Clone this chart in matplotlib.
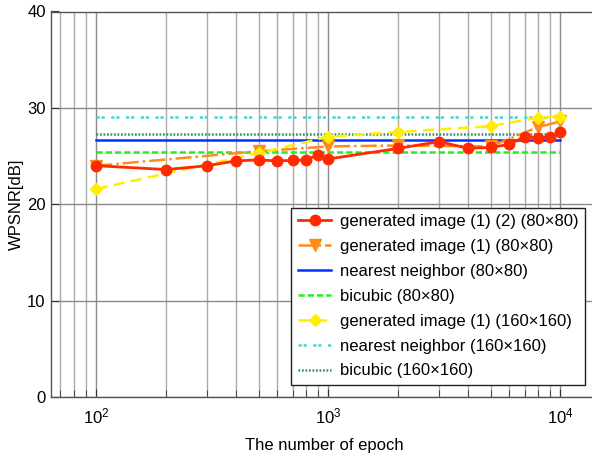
import matplotlib
matplotlib.use("Agg")
import matplotlib.pyplot as plt
from matplotlib.ticker import LogLocator, NullFormatter, FixedLocator

plt.rcParams['font.family'] = ['Liberation Sans', 'DejaVu Sans']
plt.rcParams['mathtext.fontset'] = 'custom'
plt.rcParams['mathtext.rm'] = 'Liberation Sans'
plt.rcParams['mathtext.it'] = 'Liberation Sans'

# ---- data ----
epochs_red = [100, 200, 300, 400, 500, 600, 700, 800, 900, 1000,
              2000, 3000, 4000, 5000, 6000, 7000, 8000, 9000, 10000]
wpsnr_red = [24.0, 23.6, 24.0, 24.5, 24.6, 24.5, 24.55, 24.6, 25.1, 24.7,
             25.8, 26.5, 25.8, 25.9, 26.2, 27.0, 26.9, 27.0, 27.5]

epochs_orange = [100, 500, 1000, 2000, 5000, 8000, 10000]
wpsnr_orange = [24.0, 25.5, 26.0, 26.1, 26.0, 28.0, 28.6]

epochs_yellow = [100, 500, 1000, 2000, 5000, 8000, 10000]
wpsnr_yellow = [21.6, 25.3, 27.0, 27.5, 28.1, 29.0, 29.1]

ref_span = [100, 10000]
nn_80 = 26.7
bicubic_80 = 25.4
nn_160 = 29.1
bicubic_160 = 27.3

labels = ["generated image (1) (2) (80\u00d780)",
          "generated image (1) (80\u00d780)",
          "nearest neighbor (80\u00d780)",
          "bicubic (80\u00d780)",
          "generated image (1) (160\u00d7160)",
          "nearest neighbor (160\u00d7160)",
          "bicubic (160\u00d7160)"]

fig = plt.figure(figsize=(5.92, 4.55), dpi=100)
ax = fig.add_axes([50.5/592, 1-397/455, 1-50.5/592 + 0.01, (397-11.5)/455])

ax.set_xscale('log')
ax.set_xlim(63.4, 14500)
ax.set_ylim(0, 40)

ax.plot(epochs_red, wpsnr_red, '-', color='#ff2a00', lw=2.0, marker='o',
        ms=7.5, label=labels[0], zorder=5)
ax.plot(epochs_orange, wpsnr_orange, '-.', color='#ff8c1a', lw=1.8, marker='v',
        ms=8, label=labels[1], zorder=4)
ax.plot(ref_span, [nn_80]*2, '-', color='#0033ff', lw=1.8, label=labels[2], zorder=3)
ax.plot(ref_span, [bicubic_80]*2, color='#22ee22', lw=1.8, linestyle=(0, (2.5, 1.2)),
        label=labels[3], zorder=3)
ax.plot(epochs_yellow, wpsnr_yellow, color='#ffee00', lw=1.8, linestyle=(0, (4.5, 2.5)),
        marker='D', ms=6.5, label=labels[4], zorder=4)
ax.plot(ref_span, [nn_160]*2, color='#44d4d4', lw=1.8, linestyle=(0, (1.3, 0.7, 1.3, 2.6)),
        label=labels[5], zorder=3)
ax.plot(ref_span, [bicubic_160]*2, color='#229966', lw=1.8, linestyle=(0, (0.7, 0.7)),
        label=labels[6], zorder=3)

ax.xaxis.set_major_locator(FixedLocator([100, 1000, 10000]))
ax.set_xticklabels([r'$\mathregular{10^{2}}$', r'$\mathregular{10^{3}}$', r'$\mathregular{10^{4}}$'])
ax.xaxis.set_minor_locator(LogLocator(base=10, subs=range(2, 10), numticks=20))
ax.xaxis.set_minor_formatter(NullFormatter())
ax.set_yticks([0, 10, 20, 30, 40])

ax.grid(True, which='major', color='#8a8a8a', lw=1.0)
ax.grid(True, which='minor', axis='x', color='#aaaaaa', lw=1.0)
ax.set_axisbelow(True)

ax.tick_params(which='both', direction='in', top=False, right=False,
               labelsize=12, color='#333333')
ax.tick_params(which='major', length=6)
ax.tick_params(which='minor', length=5)
ax.tick_params(axis='x', pad=7)
for s in ax.spines.values():
    s.set_color('#555555')
    s.set_linewidth(1.0)

ax.set_xlabel('The number of epoch', fontsize=12, labelpad=8)
ax.set_ylabel('WPSNR[dB]', fontsize=12, labelpad=2)

leg = ax.legend(loc='lower right', bbox_to_anchor=(585/592, 1-385/455),
                bbox_transform=fig.transFigure, fancybox=False, framealpha=1,
                edgecolor='#222222', fontsize=12, handlelength=2.0,
                borderaxespad=0, labelspacing=0.59, handletextpad=0.5,
                borderpad=0.4)
leg.get_frame().set_linewidth(1.0)

fig.savefig('out.png', dpi=100)
